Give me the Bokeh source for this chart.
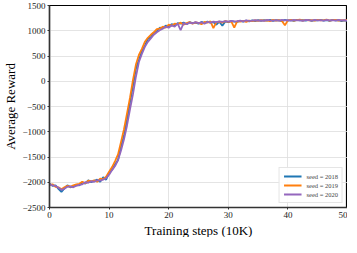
from bokeh.plotting import figure
from bokeh.models import FixedTicker, Legend, LegendItem, Range1d, Title
from bokeh.embed import file_html
from bokeh.resources import INLINE

steps = [i * 0.5 for i in range(101)]

seed_2018 = [
    -2030, -2070, -2060, -2130, -2190, -2120, -2060, -2100, -2080, -2050,
    -2060, -2000, -2030, -1960, -2000, -1970, -1950, -1990, -1900, -1950,
    -1810, -1750, -1650, -1560, -1290, -1080, -760, -420, -90, 250,
    420, 600, 700, 840, 870, 960, 990, 1060, 1050, 1100,
    1090, 1130, 1110, 1150, 1140, 1160, 1130, 1170, 1150, 1160,
    1140, 1175, 1150, 1180, 1160, 1170, 1120, 1180, 1100, 1185,
    1170, 1190, 1180, 1175, 1195, 1180, 1200, 1185, 1205, 1190,
    1210, 1195, 1210, 1200, 1215, 1195, 1210, 1205, 1190, 1215,
    1200, 1210, 1195, 1215, 1205, 1210, 1200, 1215, 1195, 1210,
    1205, 1215, 1200, 1210, 1195, 1215, 1205, 1210, 1190, 1205, 1200,
]
seed_2019 = [
    -2050, -2040, -2090, -2100, -2140, -2100, -2070, -2090, -2060, -2040,
    -2030, -1990, -2020, -1970, -1980, -1960, -1990, -1930, -1940, -1890,
    -1790, -1700, -1580, -1450, -1200, -950, -640, -330, 20, 330,
    520, 640, 780, 860, 920, 970, 1030, 1040, 1080, 1060,
    1120, 1100, 1140, 1130, 1160, 1120, 1150, 1170, 1140, 1165,
    1155, 1130, 1175, 1160, 1185, 1050, 1170, 1180, 1160, 1190,
    1175, 1185, 1060, 1190, 1180, 1195, 1175, 1200, 1190, 1205,
    1195, 1210, 1200, 1205, 1190, 1215, 1200, 1210, 1195, 1110,
    1205, 1215, 1200, 1210, 1220, 1200, 1215, 1205, 1210, 1200,
    1215, 1205, 1210, 1220, 1200, 1210, 1215, 1200, 1210, 1205, 1215,
]
seed_2020 = [
    -2040, -2060, -2070, -2110, -2150, -2130, -2090, -2080, -2100, -2070,
    -2050, -2040, -2000, -2010, -1980, -1990, -1960, -1970, -1950, -1920,
    -1850, -1760, -1680, -1560, -1370, -1150, -880, -560, -260, 90,
    380, 540, 680, 780, 850, 920, 970, 1010, 1040, 1080,
    1060, 1110, 1080, 1140, 1010, 1150, 1130, 1160, 1145, 1170,
    1150, 1165, 1140, 1175, 1160, 1180, 1170, 1185, 1175, 1190,
    1180, 1195, 1185, 1190, 1200, 1185, 1205, 1195, 1200, 1210,
    1200, 1205, 1195, 1215, 1205, 1200, 1210, 1200, 1215, 1205,
    1210, 1200, 1215, 1205, 1210, 1195, 1215, 1210, 1200, 1215,
    1205, 1210, 1200, 1215, 1205, 1210, 1200, 1215, 1205, 1210, 1200,
]

series_labels = ["seed = 2018", "seed = 2019", "seed = 2020"]
series_colors = ["#1f77b4", "#ff7f0e", "#9467bd"]

x_ticks = [0, 10, 20, 30, 40, 50]
y_ticks = [-2500, -2000, -1500, -1000, -500, 0, 500, 1000, 1500]
x_title = "Training steps (10K)"
y_title = "Average Reward"

FONT = "Liberation Serif"

p = figure(width=347, height=237, output_backend="svg", toolbar_location=None,
           x_range=Range1d(0, 50), y_range=Range1d(-2500, 1500),
           min_border_top=5, min_border_right=0, min_border_left=0, min_border_bottom=0)

renderers = []
for vals, col in zip([seed_2018, seed_2019, seed_2020], series_colors):
    r = p.line(steps, vals, line_color=col, line_width=1.8)
    renderers.append(r)

legend = Legend(items=[LegendItem(label=l, renderers=[r]) for l, r in zip(series_labels, renderers)],
                location="bottom_right")
legend.label_text_font = FONT
legend.label_text_font_size = "6.5px"
legend.glyph_width = 18
legend.glyph_height = 8
legend.label_height = 8
legend.spacing = 1
legend.padding = 4
legend.margin = 4
legend.label_standoff = 5
legend.border_line_color = "#cccccc"
legend.background_fill_alpha = 0.9
p.add_layout(legend)

p.xaxis.ticker = FixedTicker(ticks=x_ticks)
p.yaxis.ticker = FixedTicker(ticks=y_ticks)
p.yaxis.major_label_overrides = {t: (("\u2212" + str(-t)) if t < 0 else str(t)) for t in y_ticks}

p.yaxis.axis_label = y_title
for ax in [p.xaxis[0], p.yaxis[0]]:
    ax.axis_label_text_font = FONT
    ax.axis_label_text_font_size = "13px"
    ax.axis_label_text_font_style = "normal"
    ax.axis_label_text_color = "black"
    ax.major_label_text_font = FONT
    ax.major_label_text_font_size = "9px"
    ax.major_label_text_color = "#222222"
    ax.major_tick_out = 2
    ax.major_tick_in = 0
    ax.minor_tick_out = 0
    ax.minor_tick_in = 0
    ax.axis_line_color = "#333333"
    ax.axis_line_width = 1.5
    ax.major_tick_line_color = "#333333"
    ax.major_label_standoff = 2
    ax.axis_label_standoff = 1

xt = Title(text=x_title, align="center", text_font=FONT, text_font_size="13px",
           text_font_style="normal", text_color="black", standoff=0, offset=0)
p.add_layout(xt, "below")

p.outline_line_color = "black"
p.outline_line_width = 1.2
p.grid.grid_line_color = "#dddddd"
p.grid.grid_line_width = 0.8
p.background_fill_color = "white"

open("out.html", "w").write(file_html(p, INLINE))
